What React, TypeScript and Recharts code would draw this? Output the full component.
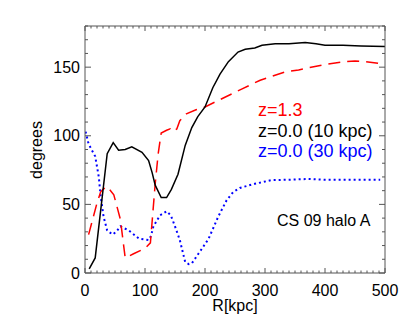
import React from "react";
import { LineChart, Line, XAxis, YAxis, Label } from "recharts";

// curves, R in kpc vs angle in degrees
const highZ = [
  { x: 6, y: 28 }, { x: 20, y: 51 }, { x: 26, y: 59 }, { x: 30, y: 61 }, { x: 37, y: 63 },
  { x: 48, y: 57 }, { x: 59, y: 39 }, { x: 65, y: 18 }, { x: 67, y: 11 }, { x: 81, y: 14 },
  { x: 100, y: 18 }, { x: 109, y: 22 }, { x: 117, y: 65 }, { x: 122, y: 87 }, { x: 127, y: 102 },
  { x: 136, y: 104 }, { x: 142, y: 105 }, { x: 147, y: 103 }, { x: 153, y: 105 }, { x: 158, y: 111 },
  { x: 169, y: 116 }, { x: 185, y: 119 }, { x: 200, y: 121 }, { x: 228, y: 127 }, { x: 261, y: 134 },
  { x: 292, y: 140.5 }, { x: 333, y: 146.5 }, { x: 356, y: 148 }, { x: 400, y: 152 }, { x: 433, y: 154 },
  { x: 450, y: 154.5 }, { x: 467, y: 154 }, { x: 485, y: 153 }, { x: 500, y: 152 }
];

const inner = [
  { x: 7, y: 3 }, { x: 17, y: 11 }, { x: 37, y: 87 }, { x: 47, y: 95 }, { x: 56, y: 89.5 },
  { x: 67, y: 90 }, { x: 78, y: 92 }, { x: 95, y: 88 }, { x: 106, y: 82 }, { x: 112, y: 73 },
  { x: 117, y: 64 }, { x: 127, y: 55 }, { x: 136, y: 55 }, { x: 144, y: 61 }, { x: 155, y: 72 },
  { x: 167, y: 93 }, { x: 178, y: 106 }, { x: 188, y: 114 }, { x: 200, y: 121 }, { x: 213, y: 135 },
  { x: 225, y: 145 }, { x: 239, y: 154 }, { x: 255, y: 161 }, { x: 267, y: 163 }, { x: 283, y: 164 },
  { x: 295, y: 166 }, { x: 317, y: 167 }, { x: 340, y: 167 }, { x: 367, y: 168 }, { x: 385, y: 167 },
  { x: 400, y: 166 }, { x: 430, y: 166 }, { x: 460, y: 165.5 }, { x: 500, y: 165 }
];

const outer = [
  { x: 1, y: 103 }, { x: 6, y: 94 }, { x: 17, y: 85 }, { x: 23, y: 70 }, { x: 26, y: 56 },
  { x: 31, y: 41 }, { x: 37, y: 31 }, { x: 46, y: 28 }, { x: 52, y: 30 }, { x: 59, y: 34 },
  { x: 73, y: 31 }, { x: 90, y: 25 }, { x: 106, y: 24 }, { x: 110, y: 27 }, { x: 114, y: 34 },
  { x: 125, y: 42 }, { x: 136, y: 45 }, { x: 143, y: 42 }, { x: 150, y: 34 }, { x: 158, y: 24 },
  { x: 167, y: 8 }, { x: 173, y: 6.5 }, { x: 178, y: 7 }, { x: 189, y: 14 }, { x: 200, y: 21 },
  { x: 206, y: 25 }, { x: 217, y: 36 }, { x: 222, y: 41 }, { x: 236, y: 53 }, { x: 247, y: 59 },
  { x: 258, y: 62 }, { x: 283, y: 65 }, { x: 311, y: 67.7 }, { x: 340, y: 68 }, { x: 372, y: 68.5 },
  { x: 400, y: 68 }, { x: 440, y: 68 }, { x: 492, y: 68 }
];

const xMajor = [0, 100, 200, 300, 400, 500];
const yMajor = [0, 50, 100, 150];
const xTicks = Array.from({ length: 51 }, (_, i) => i * 10);
const yTicks = Array.from({ length: 19 }, (_, i) => i * 10);

const legendLines = [
  { text: "z=1.3", color: "#ff0000" },
  { text: "z=0.0 (10 kpc)", color: "#000000" },
  { text: "z=0.0 (30 kpc)", color: "#0000ff" }
];

const FONT = "'Liberation Sans', Arial, Helvetica, sans-serif";
const FRAME = "#555";

const BottomTick = ({ x, y, payload }: any) => {
  const major = xMajor.includes(payload.value);
  return (
    <g>
      <line x1={x} y1={y} x2={x} y2={y - (major ? 5 : 2.5)} stroke={FRAME} strokeWidth={1} />
      {major && (
        <text x={x} y={y + 22.5} textAnchor="middle" fontSize={16} fill="#000" fontFamily={FONT}>
          {payload.value}
        </text>
      )}
    </g>
  );
};

const TopTick = ({ x, y, payload }: any) => {
  const major = xMajor.includes(payload.value);
  return <line x1={x} y1={y} x2={x} y2={y + (major ? 5 : 2.5)} stroke={FRAME} strokeWidth={1} />;
};

const LeftTick = ({ x, y, payload }: any) => {
  const major = yMajor.includes(payload.value);
  return (
    <g>
      <line x1={x} y1={y} x2={x + (major ? 6 : 3)} y2={y} stroke={FRAME} strokeWidth={1} />
      {major && (
        <text x={x - 5} y={y + 5.7} textAnchor="end" fontSize={16} fill="#000" fontFamily={FONT}>
          {payload.value}
        </text>
      )}
    </g>
  );
};

const RightTick = ({ x, y, payload }: any) => {
  const major = yMajor.includes(payload.value);
  return <line x1={x} y1={y} x2={x - (major ? 6 : 3)} y2={y} stroke={FRAME} strokeWidth={1} />;
};

export default function App() {
  return (
    <div style={{ position: "absolute", left: 0, top: 0, width: 409, height: 328, background: "#fff", fontFamily: FONT }}>
      <LineChart width={409} height={328} margin={{ top: 25, right: 23, bottom: 0, left: 0 }}>
        <XAxis
          dataKey="x"
          type="number"
          domain={[0, 500]}
          ticks={xTicks}
          interval={0}
          tickSize={0}
          tickMargin={0}
          tick={<BottomTick />}
          height={55}
          axisLine={{ stroke: FRAME }}
          allowDataOverflow
        >
          <Label value="R[kpc]" position="insideBottom" offset={17} fontSize={16} fill="#000" fontFamily={FONT} />
        </XAxis>
        <XAxis
          xAxisId="top"
          dataKey="x"
          orientation="top"
          type="number"
          domain={[0, 500]}
          ticks={xTicks}
          interval={0}
          tickSize={0}
          tickMargin={0}
          tick={<TopTick />}
          height={1}
          axisLine={{ stroke: FRAME }}
          allowDataOverflow
        />
        <YAxis
          type="number"
          domain={[0, 180]}
          ticks={yTicks}
          interval={0}
          tickSize={0}
          tickMargin={0}
          tick={<LeftTick />}
          width={85}
          axisLine={{ stroke: FRAME }}
          allowDataOverflow
        />
        <YAxis
          yAxisId="right"
          orientation="right"
          type="number"
          domain={[0, 180]}
          ticks={yTicks}
          interval={0}
          tickSize={0}
          tickMargin={0}
          tick={<RightTick />}
          width={1}
          axisLine={{ stroke: FRAME }}
          allowDataOverflow
        />
        {/* invisible copy so the mirrored frame axes have a series attached */}
        <Line xAxisId="top" yAxisId="right" data={inner} dataKey="y" stroke="none" dot={false} legendType="none" isAnimationActive={false} />
        <Line data={outer} dataKey="y" type="linear" stroke="#0000ff" strokeWidth={2} strokeDasharray="2 3" dot={false} isAnimationActive={false} />
        <Line data={highZ} dataKey="y" type="linear" stroke="#ff0000" strokeWidth={1.5} strokeDasharray="12 7" dot={false} isAnimationActive={false} />
        <Line data={inner} dataKey="y" type="linear" stroke="#000000" strokeWidth={1.5} dot={false} isAnimationActive={false} />
      </LineChart>
      <svg width={409} height={328} style={{ position: "absolute", left: 0, top: 0, pointerEvents: "none" }}>
        <text transform="translate(42,150) rotate(-90)" textAnchor="middle" fontSize={16} fill="#000" fontFamily={FONT}>
          degrees
        </text>
        {legendLines.map((l, i) => (
          <text key={l.text} x={258} y={116 + i * 20.5} fontSize={18} fill={l.color} fontFamily={FONT}>
            {l.text}
          </text>
        ))}
        <text x={277} y={226} fontSize={16} fill="#000" fontFamily={FONT}>
          CS 09 halo A
        </text>
      </svg>
    </div>
  );
}
